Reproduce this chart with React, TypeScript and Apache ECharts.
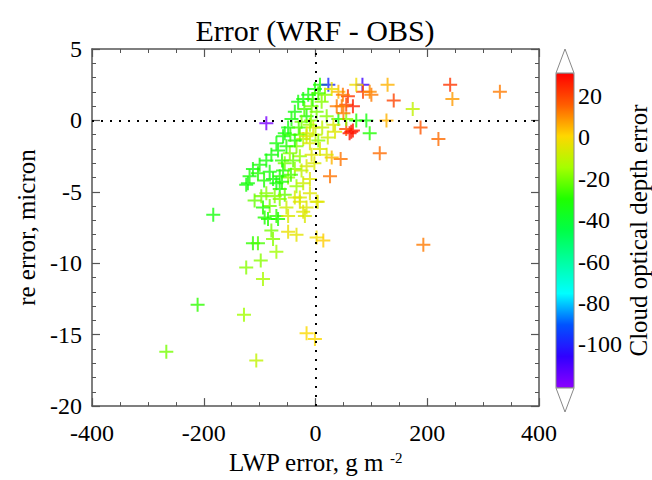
import React, { useEffect, useRef } from "react";
import * as echarts from "echarts";

// LWP error (g m^-2), re error (micron), cloud optical depth error
const lwpError = [
  -267, -211, -183, -128, -106, -124, -98, -94, -112, -103, -70, -76, -79, -49, -34, -16, -1, 2, 14, 193,
  4, -19, -91, -67, -85, -70, -82, -94, -109, -97, -88, -124, -121, -118, -112, -100, -103, -88, -79, -67,
  -70, -58, -55, -49, -43, -37, -31, -22, -13, -1, 8, 23, 84, -88, 129, 241, 330, 245, 140, 174,
  127, 188, 220, 115, 26, 45, 29, 20, 61, 67, 55, 97, 91, 73, 41, 55, 55, 67, 47, 58,
  85, 100, 41, 50, 35, 73, 97, 49, 38, 64,
  -76, -70, -64, -55, -46, -34, -22, -16, -10, -28, -16, -37, -49, -34, -22, -10, -64, -55, -28, -10,
  -4, -7, -7, 2, 11, -16, -25, -10, -28, -37, -16, 17, 29, 20, 32, 5, -73, -64, -52, -49,
  -37, -28, -16, 2, -22, -60, -52, -45, -40, -30, -20, -5, 5, -8, 0, 12, 22, -44, -58, -82,
  -92, -60, -2, 8, -25,
];
const reError = [
  -16.2, -12.9, -6.6, -13.6, -16.8, -10.3, -9.8, -11.1, -8.6, -8.6, -9.2, -8.3, -7.7, -7.8, -8.0, -14.9, -15.3, -8.2, -8.4, -8.7,
  -5.7, -6.7, -6.8, -6.9, -6.9, -6.7, -6.0, -6.1, -5.6, -5.3, -5.1, -4.5, -4.4, -3.9, -3.4, -3.1, -3.7, -2.8, -2.4, -2.1,
  -1.6, -1.1, -0.9, -0.5, 0.1, 0.6, 1.3, 1.5, 1.8, 2.2, 2.5, 2.5, 2.5, -0.2, 2.5, 2.5, 2.0, 1.5, 1.4, 0.8,
  0.0, -0.5, -1.3, -2.3, -3.9, -2.7, -2.6, -2.4, -0.9, -0.7, -0.6, -0.9, 0.0, 0.0, 0.1, 0.1, 1.1, 1.0, 1.0, 1.7,
  2.0, 1.8, 2.0, 0.5, -0.8, 2.5, 2.0, 1.8, 1.0, -0.8,
  -4.1, -4.4, -3.9, -3.0, -2.3, -1.8, -1.3, -0.9, -1.6, -2.5, -3.2, -3.4, -4.0, -4.6, -4.4, -4.1, -4.8, -5.2, -5.4, -5.1,
  -0.5, -2.4, 1.0, 0.6, 1.3, 0.3, -0.1, -0.3, -1.0, -1.4, -1.1, 1.8, 2.2, 0.3, -0.3, -1.4, -5.3, -5.5, -6.1, -6.7,
  -5.4, -5.7, -6.1, -5.7, -6.4, -2.8, -1.8, -1.0, -2.8, -0.5, 0.8, 1.5, 1.9, 0.0, -1.0, -0.5, -1.2, -3.8, -3.5, -3.6,
  -4.2, -4.3, -3.0, -2.0, -3.5,
];
const codError = [
  -20, -28, -33, -15, -10, -18, -18, -14, -28, -25, -15, -18, -20, -3, -4, 0, 0, -2, 2, 12,
  -5, -6, -30, -30, -30, -28, -20, -30, -22, -20, -18, -33, -33, -32, -33, -32, -30, -33, -33, -33,
  -33, -33, -33, -33, -33, -33, -33, -33, -33, -33, -30, -98, -108, -118, 5, 22, 12, 8, 20, -10,
  5, 17, 14, 14, 13, 13, 5, -5, 28, 26, 18, -30, -33, -30, -33, -18, 20, 26, 12, 22,
  20, 12, 5, 12, -5, -2, 10, 12, 12, 28,
  -33, -33, -30, -20, -18, -18, -12, -6, -6, -16, -6, -18, -18, -16, -8, -5, -30, -22, -6, -5,
  -5, -5, -20, -20, -18, -30, -20, -15, -20, -30, -6, -18, -3, -18, -6, -18, -18, -18, -8, -6,
  -6, -5, -5, -5, -5, -28, -30, -28, -22, -25, -25, -28, -25, -18, -10, -10, -8, -25, -30, -33,
  -30, -30, -6, -6, -10,
];

const xTicks = [-400, -200, 0, 200, 400];
const yTicks = [5, 0, -5, -10, -15, -20];
const cbarTicks = [20, 0, -20, -40, -60, -80, -100];
const cbarMin = -121;
const cbarMax = 31;
const rainbow = [
  "#8c00ff", "#3000ff", "#0052ff", "#00ffff", "#00ffa3", "#00ff47",
  "#1fff00", "#a5ff00", "#ffd700", "#ff5c00", "#ff0000",
];

const FONT = "'Liberation Serif', 'Times New Roman', serif";
const PLUS = "path://M6,0H8V6H14V8H8V14H6V8H0V6H6Z";

export default function App() {
  const ref = useRef<HTMLDivElement>(null);
  useEffect(() => {
    if (!ref.current) return;
    const chart = echarts.init(ref.current, null, { renderer: "svg" });
    const points = lwpError.map((x, i) => [x, reError[i], codError[i]]);
    const axisColor = "#555";
    const common = {
      type: "value" as const,
      axisLine: { show: true, onZero: false, lineStyle: { color: axisColor, width: 1.5 } },
      axisTick: { show: true, inside: true, length: 8, lineStyle: { color: axisColor, width: 1.2 } },
      minorTick: { show: true, length: 4, lineStyle: { color: axisColor, width: 1 } },
      splitLine: { show: false },
    };
    const xBase = { ...common, min: xTicks[0], max: xTicks[xTicks.length - 1], interval: 200, minorTick: { ...common.minorTick, splitNumber: 4 } };
    const yBase = { ...common, min: yTicks[yTicks.length - 1], max: yTicks[0], interval: 5, minorTick: { ...common.minorTick, splitNumber: 5 } };
    const labelStyle = { color: "#000", fontSize: 24, fontFamily: FONT };
    chart.setOption({
      animation: false,
      backgroundColor: "#fff",
      grid: [
        { left: 92, top: 49, right: 113, bottom: 68 },
        { left: 556, top: 73, width: 18, height: 315 },
      ],
      xAxis: [
        {
          ...xBase, gridIndex: 0, position: "bottom",
          axisLabel: { ...labelStyle, margin: 15 },
          name: "{a|LWP error, g m }{s|-2}",
          nameLocation: "middle",
          nameGap: 42,
          nameTextStyle: {
            rich: {
              a: { fontSize: 25, fontFamily: FONT, color: "#000" },
              s: { fontSize: 15, fontFamily: FONT, color: "#000", verticalAlign: "top" },
            },
          },
        },
        { ...xBase, gridIndex: 0, position: "top", axisLabel: { show: false } },
        { type: "value", gridIndex: 1, show: false, min: 0, max: 1 },
      ],
      yAxis: [
        {
          ...yBase, gridIndex: 0, position: "left",
          axisLabel: { ...labelStyle, margin: 10 },
          name: "re error, micron",
          nameLocation: "middle",
          nameRotate: 90,
          nameGap: 53,
          nameTextStyle: { fontSize: 25, fontFamily: FONT, color: "#000" },
        },
        { ...yBase, gridIndex: 0, position: "right", axisLabel: { show: false } },
        {
          type: "value", gridIndex: 1, position: "right", min: cbarMin, max: cbarMax,
          axisLine: { show: false }, axisTick: { show: false }, splitLine: { show: false },
          axisLabel: { ...labelStyle, margin: 6, customValues: cbarTicks },
          name: "Cloud optical depth error",
          nameLocation: "middle",
          nameRotate: 90,
          nameGap: 52,
          nameTextStyle: { fontSize: 25, fontFamily: FONT, color: "#000" },
        },
      ],
      visualMap: {
        type: "continuous",
        min: cbarMin,
        max: cbarMax,
        dimension: 2,
        seriesIndex: 1,
        calculable: false,
        orient: "vertical",
        left: 556,
        top: 73,
        padding: 0,
        itemWidth: 18,
        itemHeight: 315,
        inRange: { color: rainbow },
        outOfRange: { color: rainbow },
      },
      graphic: [
        { type: "rect", z: 100, shape: { x: 556, y: 73, width: 18, height: 315 }, style: { fill: "none", stroke: "#888", lineWidth: 1 } },
        { type: "polygon", z: 100, shape: { points: [[556, 73], [574, 73], [565, 49]] }, style: { fill: "#fff", stroke: "#888", lineWidth: 1 } },
        { type: "polygon", z: 100, shape: { points: [[556, 388], [574, 388], [565, 412]] }, style: { fill: "#fff", stroke: "#888", lineWidth: 1 } },
        {
          type: "text", x: 315, y: 30,
          style: { text: "Error (WRF - OBS)", fontSize: 30, fontFamily: FONT, fill: "#000", align: "center", verticalAlign: "middle" },
        },
      ],
      series: [
        {
          type: "line",
          xAxisIndex: 0,
          yAxisIndex: 0,
          data: [],
          silent: true,
          markLine: {
            silent: true,
            symbol: "none",
            label: { show: false },
            lineStyle: { color: "#000", type: [2, 7], width: 2 },
            data: [{ xAxis: 0 }, { yAxis: 0 }],
          },
        },
        {
          type: "scatter",
          xAxisIndex: 0,
          yAxisIndex: 0,
          symbol: PLUS,
          symbolSize: 14,
          data: points,
        },
      ],
    });
    return () => chart.dispose();
  }, []);
  return <div ref={ref} style={{ position: "absolute", left: 0, top: 0, width: 652, height: 480 }} />;
}
